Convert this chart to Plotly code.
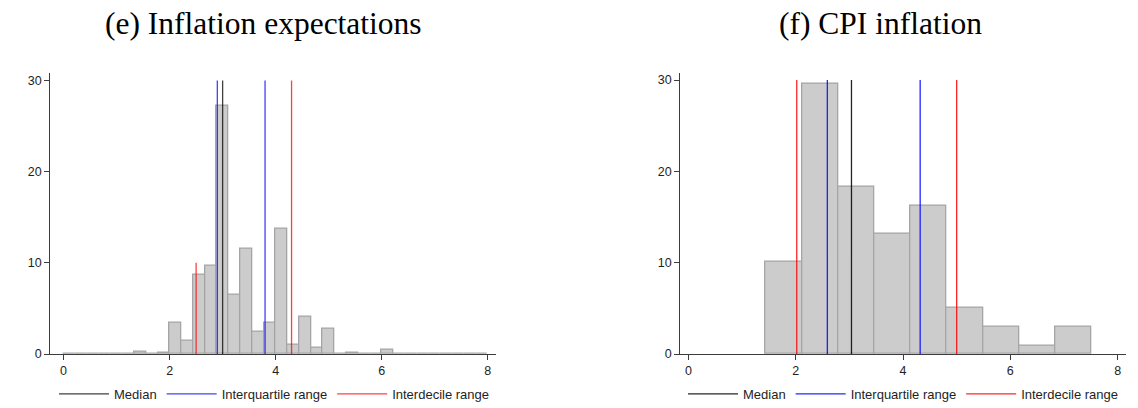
import plotly.graph_objects as go

# ---------------- data ----------------
# Panel (e): inflation expectations, 36 bins of width 8/36 from 0 to 8 (percent of respondents)
exp_bin_width = 8 / 36
exp_bin_start = [i * 8 / 36 for i in range(36)]
exp_pct = [0.03, 0.03, 0.03, 0.06, 0.03, 0.03, 0.25, 0.0, 0.12,
           3.45, 1.47, 8.73, 9.68, 27.2, 6.49, 11.55, 2.42, 3.41,
           13.71, 1.06, 4.14, 0.70, 2.82, 0.0, 0.18, 0.0, 0.05, 0.51,
           0.0, 0.0, 0.0, 0.06, 0.0, 0.0, 0.0, 0.04]
exp_median = [3.0]
exp_iqr = [2.9, 3.8]
exp_idr = [2.5, 4.3]
exp_idr_top = [10, 30]

# Panel (f): CPI inflation, 9 bins
cpi_bin_edges = [1.44, 2.115, 2.79, 3.465, 4.14, 4.815, 5.49, 6.165, 6.84, 7.515]
cpi_pct = [10.15, 29.56, 18.32, 13.21, 16.28, 5.04, 2.96, 0.91, 2.96]
cpi_median = [3.04]
cpi_iqr = [2.59, 4.32]
cpi_idr = [2.02, 5.0]
cpi_idr_top = [30, 30]

line_top = 30
titles = ["(e) Inflation expectations", "(f) CPI inflation"]
x_ticks = [0, 2, 4, 6, 8]
y_ticks = [0, 10, 20, 30]

# ---------------- figure ----------------
W, H = 1138, 408
fig = go.Figure()

bar_fill = "rgb(204,204,204)"
bar_line = "rgb(165,165,165)"


def vlines(xs, tops):
    X, Y = [], []
    for x, t in zip(xs, tops):
        X += [x, x, None]
        Y += [0, t, None]
    return X, Y


def add_panel(centers, widths, heights, med, iqr, idr, idr_top, xa, ya, leg, op):
    fig.add_trace(go.Bar(x=centers, y=heights, width=widths, xaxis=xa, yaxis=ya,
                         marker=dict(color=bar_fill, line=dict(color=bar_line, width=1.3)),
                         showlegend=False, hoverinfo="x+y"))
    X, Y = vlines(med, [line_top] * len(med))
    fig.add_trace(go.Scatter(x=X, y=Y, mode="lines", name="Median", xaxis=xa, yaxis=ya,
                             line=dict(color="black", width=1.3), opacity=op, legend=leg))
    X, Y = vlines(iqr, [line_top] * len(iqr))
    fig.add_trace(go.Scatter(x=X, y=Y, mode="lines", name="Interquartile range", xaxis=xa, yaxis=ya,
                             line=dict(color="blue", width=1.3), opacity=op, legend=leg))
    X, Y = vlines(idr, idr_top)
    fig.add_trace(go.Scatter(x=X, y=Y, mode="lines", name="Interdecile range", xaxis=xa, yaxis=ya,
                             line=dict(color="red", width=1.3), opacity=op, legend=leg))


exp_centers = [s + exp_bin_width / 2 for s in exp_bin_start]
add_panel(exp_centers, [exp_bin_width] * len(exp_centers), exp_pct,
          exp_median, exp_iqr, exp_idr, exp_idr_top, "x", "y", "legend", 0.75)

cpi_centers = [(a + b) / 2 for a, b in zip(cpi_bin_edges[:-1], cpi_bin_edges[1:])]
cpi_widths = [b - a for a, b in zip(cpi_bin_edges[:-1], cpi_bin_edges[1:])]
add_panel(cpi_centers, cpi_widths, cpi_pct,
          cpi_median, cpi_iqr, cpi_idr, cpi_idr_top, "x2", "y2", "legend2", 0.85)

ydom = [1 - 354 / H, 1 - 72.7 / H]
tickfont = dict(family="Liberation Sans, Arial", size=12.5, color="rgb(30,30,30)")
axis_common = dict(showgrid=False, zeroline=False, showline=True, linecolor="rgb(60,60,60)",
                   linewidth=1.3, ticks="outside", ticklen=5, tickcolor="rgb(60,60,60)",
                   tickfont=tickfont, automargin=False)
legfont = dict(family="Liberation Sans, Arial", size=13, color="rgb(30,30,30)")

fig.update_layout(
    template="none",
    width=W, height=H, autosize=False,
    margin=dict(l=0, r=0, t=0, b=0, autoexpand=False),
    plot_bgcolor="white", paper_bgcolor="white",
    bargap=0,
    xaxis=dict(domain=[50.3 / W, 495.7 / W], range=[-0.25, 8.15], tickvals=x_ticks, anchor="y", **axis_common),
    yaxis=dict(domain=ydom, range=[0, 30.85], tickvals=y_ticks, anchor="x", **axis_common),
    xaxis2=dict(domain=[680.3 / W, 1125.7 / W], range=[-0.15, 8.15], tickvals=x_ticks, anchor="y2", **axis_common),
    yaxis2=dict(domain=ydom, range=[0, 30.8], tickvals=y_ticks, anchor="x2", **axis_common),
    legend=dict(orientation="h", x=274 / W, xanchor="center", y=(H - 394) / H, yanchor="middle",
                font=legfont, itemwidth=50, bgcolor="rgba(0,0,0,0)"),
    legend2=dict(orientation="h", x=903 / W, xanchor="center", y=(H - 394) / H, yanchor="middle",
                 font=legfont, itemwidth=50, bgcolor="rgba(0,0,0,0)"),
    annotations=[
        dict(text=titles[0], x=263 / W, y=(H - 23) / H, xref="paper", yref="paper",
             showarrow=False, xanchor="center", yanchor="middle",
             font=dict(family="Liberation Serif, Times New Roman, serif", size=31.5, color="black")),
        dict(text=titles[1], x=880 / W, y=(H - 23) / H, xref="paper", yref="paper",
             showarrow=False, xanchor="center", yanchor="middle",
             font=dict(family="Liberation Serif, Times New Roman, serif", size=31.5, color="black")),
    ],
)

fig.write_html("out.html",
               config={"displayModeBar": False, "responsive": False},
               post_script="document.body.style.margin='0';document.body.style.overflow='hidden';")
